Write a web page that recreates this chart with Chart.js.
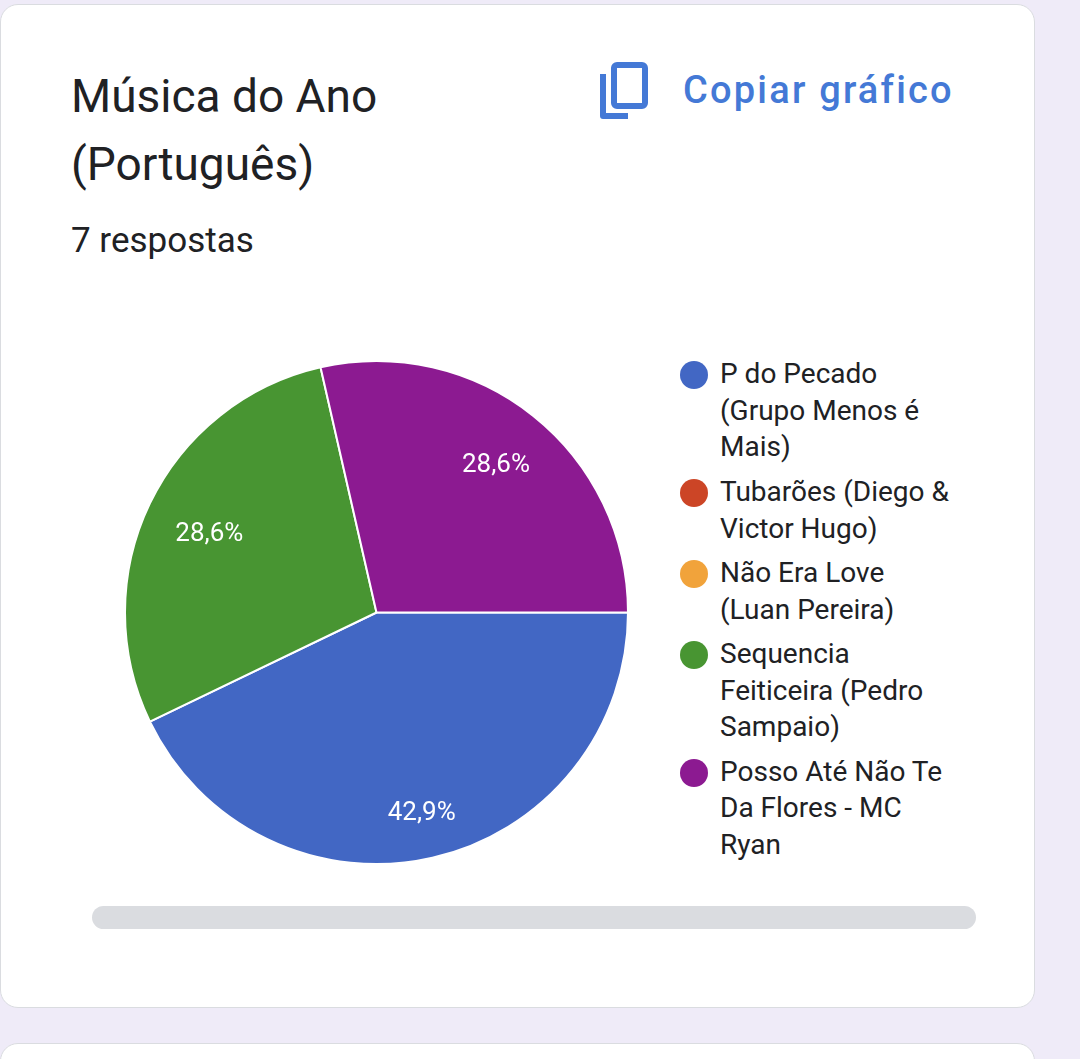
<!DOCTYPE html>
<html>
<head>
<meta charset="utf-8">
<script src="https://cdn.jsdelivr.net/npm/chart.js@4.4.1/dist/chart.umd.min.js"></script>
<style>
  html, body { margin:0; padding:0; }
  body { width:1080px; height:1059px; background:#efebf8; position:relative; overflow:hidden; font-family:Roboto, "Noto Sans", sans-serif; }
  .card { position:absolute; left:0; top:4px; width:1035px; height:1004px; background:#fff; border:1.5px solid #dadce0; border-radius:18px; box-sizing:border-box; }
  .card2 { top:1043px; height:200px; }
  .title { position:absolute; left:71px; top:62px; width:440px; font-size:46px; line-height:68px; color:#202124; }
  .count { position:absolute; left:71px; top:223px; font-size:35px; line-height:35px; color:#202124; }
  .copy { position:absolute; left:683px; top:68px; font-size:38px; line-height:44px; color:#4479d6; font-weight:500; letter-spacing:2.2px; }
  .icon { position:absolute; left:596px; top:58px; }
  #chart-box { position:absolute; left:116px; top:352px; width:521px; height:521px; }
  #legend { position:absolute; left:680px; top:356px; width:300px; }
  .item { display:flex; align-items:flex-start; margin-bottom:7.7px; }
  .dot { width:28px; height:28px; border-radius:50%; margin-top:5px; flex:none; }
  .txt { margin-left:12px; width:235px; font-size:28px; line-height:36.7px; color:#202124; }
  .scroll { position:absolute; left:92px; top:906px; width:884px; height:23px; border-radius:12px; background:#dadce0; }
</style>
</head>
<body>
<div class="card"></div>
<div class="card card2"></div>

<div class="title">Música do Ano (Português)</div>
<div class="count">7 respostas</div>

<svg class="icon" width="56" height="64" viewBox="0 0 56 64">
  <path d="M7 16 V58 H32" fill="none" stroke="#4479d6" stroke-width="6" stroke-linejoin="round"/>
  <rect x="18" y="7" width="31" height="41" rx="3" fill="none" stroke="#4479d6" stroke-width="6"/>
</svg>
<div class="copy">Copiar gráfico</div>

<div id="chart-box"><canvas id="pie"></canvas></div>
<div id="legend"></div>
<div class="scroll"></div>

<script>
// dados
const labels = [
  'P do Pecado (Grupo Menos é Mais)',
  'Tubarões (Diego & Victor Hugo)',
  'Não Era Love (Luan Pereira)',
  'Sequencia Feiticeira (Pedro Sampaio)',
  'Posso Até Não Te Da Flores - MC Ryan'
];
const votes  = [3, 0, 0, 2, 2];
const colors = ['#4267c4', '#cc4526', '#f1a33b', '#489532', '#8c1a91'];

// rótulos de porcentagem dentro das fatias
const pctLabels = {
  id:'pctLabels',
  afterDatasetsDraw(chart){
    const ctx = chart.ctx;
    const meta = chart.getDatasetMeta(0);
    const total = votes.reduce((a,b)=>a+b,0);
    ctx.save();
    ctx.font = '26px Roboto';
    ctx.fillStyle = '#fff';
    ctx.textAlign = 'center';
    ctx.textBaseline = 'middle';
    meta.data.forEach((arc,i)=>{
      const v = votes[i];
      if(!v) return;
      const p = arc.getProps(['x','y','startAngle','endAngle','outerRadius'], true);
      const mid = (p.startAngle + p.endAngle)/2;
      const txt = (v/total*100).toFixed(1).replace('.', ',') + '%';
      const w = ctx.measureText(txt).width, h = 20;
      const c = Math.cos(mid), s = Math.sin(mid);
      const r = p.outerRadius*0.877 - (Math.abs(c)*w/2 + Math.abs(s)*h/2);
      ctx.fillText(txt, p.x + c*r, p.y + s*r + 3);
    });
    ctx.restore();
  }
};

const pieChart = new Chart(document.getElementById('pie').getContext('2d'), {
  type:'pie',
  data:{
    labels,
    datasets:[{
      data: votes,
      backgroundColor: colors,
      borderColor:'#fff',
      borderWidth:2
    }]
  },
  options:{
    responsive:true,
    maintainAspectRatio:false,
    animation:false,
    rotation:90,
    radius:251.5,
    layout:{ padding:0 },
    plugins:{
      legend:{ display:false },
      tooltip:{ enabled:false }
    }
  },
  plugins:[pctLabels]
});

// legenda em HTML (quebra de linha como no Forms)
const legendDiv = document.getElementById('legend');
const items = Chart.controllers.pie.overrides.plugins.legend.labels.generateLabels(pieChart);
let html = '';
items.forEach(it=>{
  html += `<div class="item"><span class="dot" style="background:${it.fillStyle}"></span><span class="txt">${it.text.replace('&','&amp;')}</span></div>`;
});
legendDiv.innerHTML = html;
</script>
</body>
</html>
